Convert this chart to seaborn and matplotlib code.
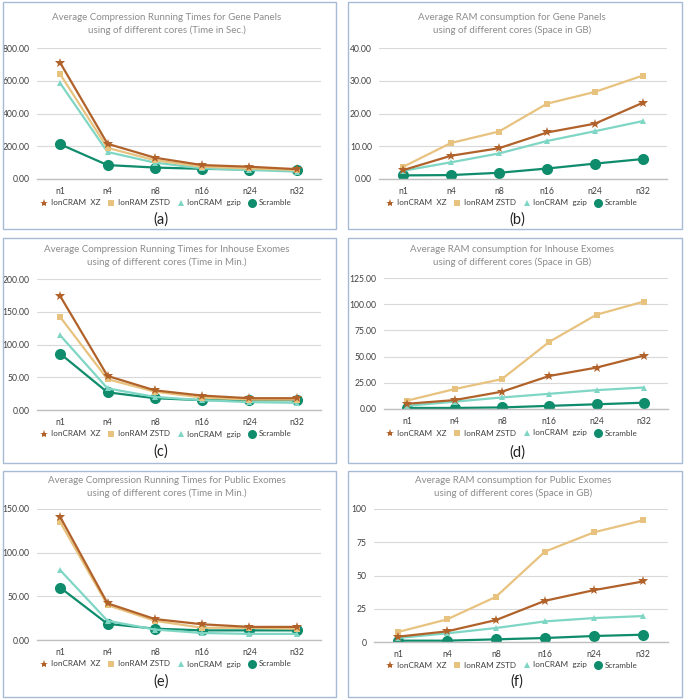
import matplotlib
matplotlib.use("Agg")
import matplotlib.pyplot as plt
from matplotlib.lines import Line2D
from matplotlib.patches import Rectangle
from matplotlib.ticker import FormatStrFormatter
import seaborn as sns
import pandas as pd

sns.set_theme(style="white")
plt.rcParams['font.family'] = ['Lato', 'DejaVu Sans']

cores = ["n1", "n4", "n8", "n16", "n24", "n32"]
series_names = ["IonCRAM  XZ", "IonRAM ZSTD", "IonCRAM  gzip", "Scramble"]

# (a) Gene panels, time (s)
a_xz = [710, 215, 130, 85, 75, 60]
a_zstd = [640, 190, 115, 75, 65, 55]
a_gzip = [585, 165, 100, 65, 55, 45]
a_scr = [212, 85, 70, 62, 58, 57]
# (b) Gene panels, RAM (GB)
b_xz = [2.7, 7.1, 9.4, 14.2, 16.9, 23.3]
b_zstd = [3.7, 11.0, 14.5, 23.0, 26.6, 31.6]
b_gzip = [2.5, 5.1, 7.8, 11.6, 14.6, 17.7]
b_scr = [1.1, 1.2, 1.9, 3.2, 4.7, 6.1]
# (c) Inhouse exomes, time (min)
c_xz = [174, 52, 30, 22, 18, 18]
c_zstd = [142, 47, 28, 19, 16, 16]
c_gzip = [114, 33, 20, 15, 12, 11]
c_scr = [86, 27, 18, 15, 15, 15]
# (d) Inhouse exomes, RAM (GB)
d_xz = [5, 8.5, 16.5, 31.5, 39.5, 51]
d_zstd = [8, 19, 28.5, 64, 90, 102.5]
d_gzip = [3, 7, 11, 14.5, 18, 20.5]
d_scr = [1, 1, 1.5, 3, 4.5, 6]
# (e) Public exomes, time (min)
e_xz = [141, 42, 24, 18, 15, 15]
e_zstd = [135, 40, 22, 14, 14, 13]
e_gzip = [80, 22, 12, 8, 7, 7]
e_scr = [60, 18.5, 13, 11, 11, 11]
# (f) Public exomes, RAM (GB)
f_xz = [4, 8, 16.5, 31, 39, 45.5]
f_zstd = [7.5, 17, 34, 68, 82.5, 91.5]
f_gzip = [3, 6.5, 10.5, 15.5, 18, 19.5]
f_scr = [1, 1, 2, 3, 4.5, 5.5]

titles = [
    "Average Compression Running Times for Gene Panels\nusing of different cores (Time in Sec.)",
    "Average RAM consumption for Gene Panels\nusing of different cores (Space in GB)",
    "Average Compression Running Times for Inhouse Exomes\nusing of different cores (Time in Min.)",
    "Average RAM consumption for Inhouse Exomes\nusing of different cores (Space in GB)",
    "Average Compression Running Times for Public Exomes\nusing of different cores (Time in Min.)",
    "Average RAM consumption for Public Exomes\nusing of different cores (Space in GB)",
]
panel_labels = ["(a)", "(b)", "(c)", "(d)", "(e)", "(f)"]
ymaxes = [800, 40, 200, 125, 150, 100]
ysteps = [200, 10, 50, 25, 50, 25]
yfmts = ["%.2f", "%.2f", "%.2f", "%.2f", "%.2f", "%d"]
panel_data = [
    (a_xz, a_zstd, a_gzip, a_scr),
    (b_xz, b_zstd, b_gzip, b_scr),
    (c_xz, c_zstd, c_gzip, c_scr),
    (d_xz, d_zstd, d_gzip, d_scr),
    (e_xz, e_zstd, e_gzip, e_scr),
    (f_xz, f_zstd, f_gzip, f_scr),
]

colors = ["#B0622A", "#E8C27F", "#7FD6C4", "#0E8C6C"]
markers = ["*", "s", "^", "o"]
msizes = [7, 5, 5, 8]
draw_order = [3, 2, 1, 0]

W, H = 685, 699
fig = plt.figure(figsize=(W / 100, H / 100), dpi=100)
fig.patch.set_facecolor("white")

# axes rect in pixels: left, right, top(ymax), bottom(zero)
ax_px = [
    (36.5, 320.5, 48, 179),
    (379, 667, 48, 179),
    (36.5, 320.5, 279, 410),
    (383.5, 667.5, 278, 409),
    (36.5, 320.5, 509, 640),
    (373.5, 667.5, 509, 642),
]
boxes = [
    (3, 336, 2, 229),
    (348, 682, 2, 229),
    (3, 336, 238, 463),
    (348, 682, 238, 463),
    (3, 336, 471, 697),
    (348, 682, 471, 697),
]
title_pos = [(167, 24), (512, 24), (167, 256), (512, 256), (167, 487), (513, 487)]
legend_y = [203, 203, 434, 433, 664, 665]
label_y = [220, 220, 452, 453, 682, 682]
legend_cx = [166, 512, 166, 512, 166, 512]
label_cx = [161, 517, 161, 517, 161, 517]

for i in range(6):
    bx0, bx1, by0, by1 = boxes[i]
    fig.patches.append(Rectangle((bx0 / W, 1 - by1 / H), (bx1 - bx0) / W, (by1 - by0) / H,
                                 transform=fig.transFigure, fill=False,
                                 edgecolor="#A7BBD6", linewidth=1.0))
    l, r, t, b = ax_px[i]
    ax = fig.add_axes([l / W, 1 - b / H, (r - l) / W, (b - t) / H])
    ax.set_facecolor("none")
    data = panel_data[i]
    for k in draw_order:
        df = pd.DataFrame({"core": cores, "value": data[k]})
        sns.lineplot(data=df, x="core", y="value", ax=ax, color=colors[k],
                     marker=markers[k], markersize=msizes[k], markeredgewidth=0,
                     linewidth=1.6, sort=False)
    ax.set_xlim(-0.5, 5.5)
    ax.set_ylim(0, ymaxes[i])
    ax.set_yticks(list(range(0, ymaxes[i] + 1, ysteps[i])))
    ax.yaxis.set_major_formatter(FormatStrFormatter(yfmts[i]))
    ax.grid(axis="y", color="#D9D9D9", linewidth=0.8)
    ax.grid(axis="x", visible=False)
    for s in ["top", "right", "left"]:
        ax.spines[s].set_visible(False)
    ax.spines["bottom"].set_color("#BFBFBF")
    ax.spines["bottom"].set_linewidth(1.0)
    ax.set_xlabel("")
    ax.set_ylabel("")
    ax.tick_params(axis="both", length=0, labelsize=6.2, labelcolor="#404040", pad=6)
    ax.tick_params(axis="y", pad=5)
    if ax.get_legend() is not None:
        ax.get_legend().remove()
    tx, ty = title_pos[i]
    fig.text(tx / W, 1 - ty / H, titles[i], ha="center", va="center",
             fontsize=7, color="#8C8C8C", linespacing=1.55)
    handles = [Line2D([], [], color=colors[k], marker=markers[k], linestyle="none",
                      markersize=msizes[k] - 1 if k != 3 else 6.5, markeredgewidth=0)
               for k in range(4)]
    fig.legend(handles, series_names, loc="center", ncol=4,
               bbox_to_anchor=(legend_cx[i] / W, 1 - legend_y[i] / H),
               frameon=False, fontsize=5.9, handletextpad=0.35, columnspacing=0.9,
               handlelength=0.9, labelcolor="#404040")
    fig.text(label_cx[i] / W, 1 - label_y[i] / H, panel_labels[i], ha="center", va="center",
             fontsize=10.5, color="#222222")

fig.savefig("out.png", dpi=100, facecolor="white")
